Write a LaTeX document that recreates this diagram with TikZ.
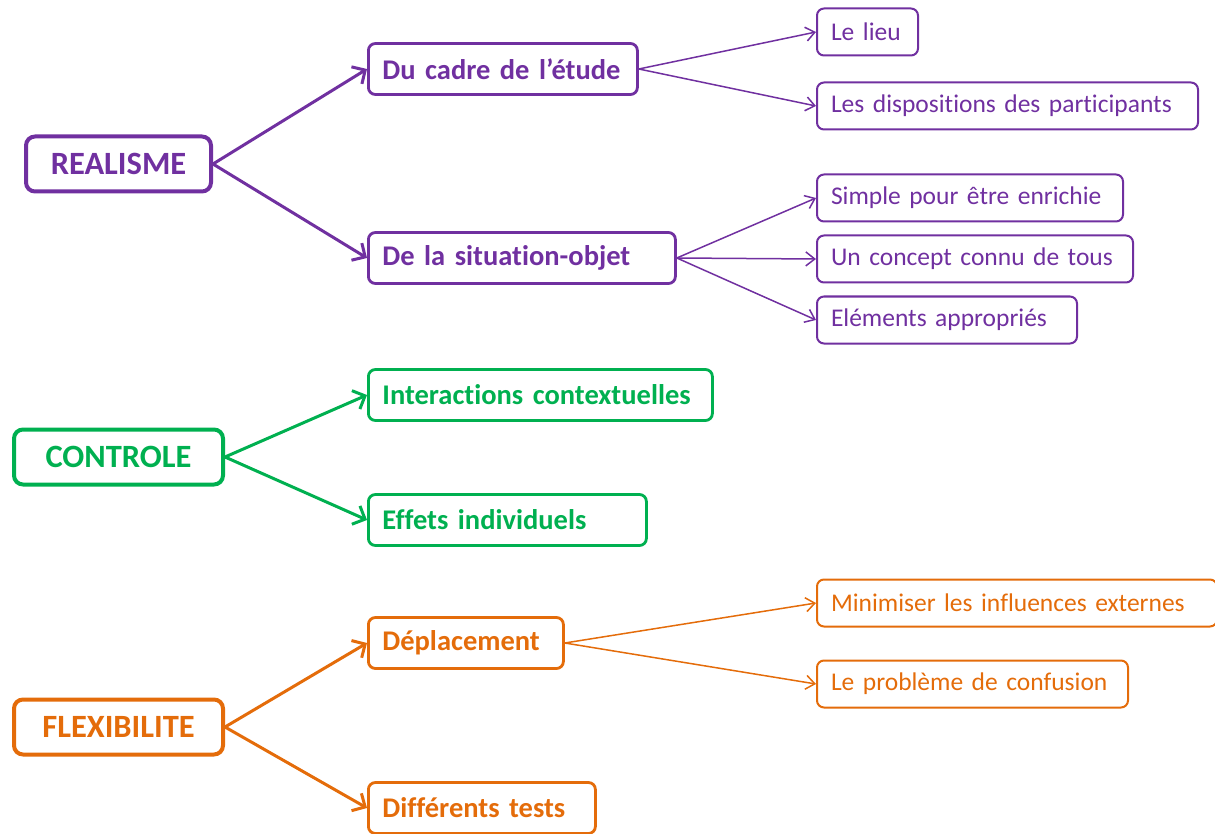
\documentclass[tikz,border=0pt]{standalone}
\usepackage{fontspec}
\setmainfont{Carlito}[Ligatures={NoCommon,NoRare}]
\usetikzlibrary{arrows.meta}
\definecolor{cpurple}{HTML}{7030A0}
\definecolor{cgreen}{HTML}{00B050}
\definecolor{corange}{HTML}{E46C0A}
\begin{document}
\begin{tikzpicture}[x=1pt,y=-1pt,
 lvlone/.style={draw, line width=4pt, rounded corners=9pt, font=\fontsize{32.5}{38}\selectfont\bfseries, minimum height=55pt, inner sep=0pt, anchor=west},
 lvltwo/.style={draw, line width=2.8pt, rounded corners=7pt, font=\fontsize{28.5}{34}\selectfont\bfseries, minimum height=51pt, inner xsep=14pt, inner ysep=0pt, align=left, anchor=west},
 lvlthree/.style={draw, line width=2pt, rounded corners=7pt, font=\fontsize{25.5}{30}\selectfont, minimum height=47pt, inner xsep=14pt, inner ysep=0pt, align=left, anchor=west},
 bigarrow/.style={line width=3pt, -{Straight Barb[length=10pt,width=20pt]}},
 smallarrow/.style={line width=1.5pt, -{Straight Barb[length=9pt,width=14pt]}},
]
\useasboundingbox (0,0) rectangle (1215,834);

% REALISME
\begin{scope}[color=cpurple, text=cpurple]
\node[lvlone, minimum width=185pt] (real) at (24,164) {REALISME};
\node[lvltwo, text width=241pt] (cadre) at (367,69) {\mbox{Du cadre de l’étude}};
\node[lvltwo, text width=279pt] (situ) at (367,258) {\mbox{De la situation-objet}};
\node[lvlthree, text width=73pt] (lieu) at (816,32) {\mbox{Le lieu}};
\node[lvlthree, text width=353pt] (dispo) at (816,106) {\mbox{Les dispositions des participants}};
\node[lvlthree, text width=278pt] (simple) at (816,198) {\mbox{Simple pour être enrichie}};
\node[lvlthree, text width=288pt] (concept) at (816,259) {\mbox{Un concept connu de tous}};
\node[lvlthree, text width=232pt] (elem) at (816,320) {\mbox{Eléments appropriés}};
\draw[bigarrow] (real.east) -- (cadre.west);
\draw[bigarrow] (real.east) -- (situ.west);
\draw[smallarrow] (cadre.east) -- (lieu.west);
\draw[smallarrow] (cadre.east) -- (dispo.west);
\draw[smallarrow] (situ.east) -- (simple.west);
\draw[smallarrow] (situ.east) -- (concept.west);
\draw[smallarrow] (situ.east) -- (elem.west);
\end{scope}

% CONTROLE
\begin{scope}[color=cgreen, text=cgreen]
\node[lvlone, minimum width=209pt] (ctrl) at (12,457) {CONTROLE};
\node[lvltwo, text width=316pt] (inter) at (367,395) {\mbox{Interactions contextuelles}};
\node[lvltwo, text width=250pt] (effets) at (367,520) {\mbox{Effets individuels}};
\draw[bigarrow] (ctrl.east) -- (inter.west);
\draw[bigarrow] (ctrl.east) -- (effets.west);
\end{scope}

% FLEXIBILITE
\begin{scope}[color=corange, text=corange]
\node[lvlone, minimum width=209pt] (flex) at (12,727) {FLEXIBILITE};
\node[lvltwo, text width=167pt] (depl) at (367,643) {\mbox{Déplacement}};
\node[lvltwo, text width=199pt] (tests) at (367,808) {\mbox{Différents tests}};
\node[lvlthree, text width=372pt] (mini) at (816,603) {\mbox{Minimiser les influences externes}};
\node[lvlthree, text width=283pt] (confu) at (816,684) {\mbox{Le problème de confusion}};
\draw[bigarrow] (flex.east) -- (depl.west);
\draw[bigarrow] (flex.east) -- (tests.west);
\draw[smallarrow] (depl.east) -- (mini.west);
\draw[smallarrow] (depl.east) -- (confu.west);
\end{scope}
\end{tikzpicture}
\end{document}
